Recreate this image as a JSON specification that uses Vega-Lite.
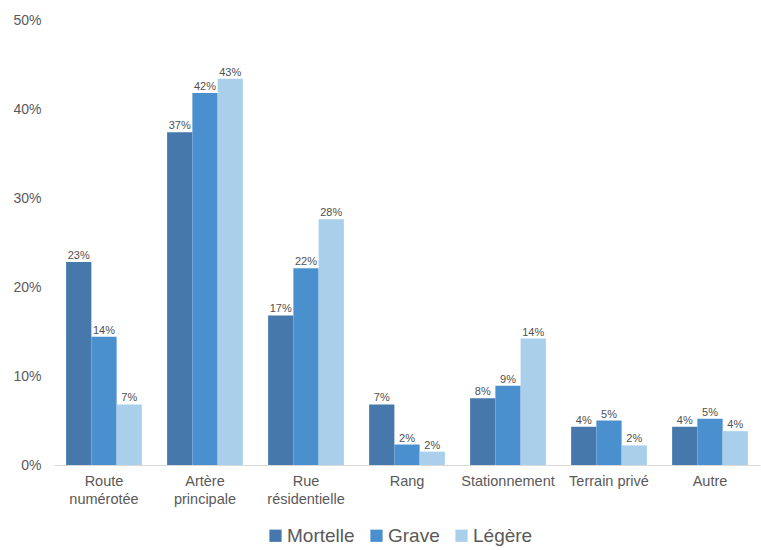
{
  "$schema": "https://vega.github.io/schema/vega-lite/v6.json",
  "width": 706,
  "height": 445,
  "autosize": "none",
  "padding": {"left": 54, "top": 20, "right": 1, "bottom": 85},
  "background": "white",
  "config": {"view": {"stroke": null}, "font": "Liberation Sans"},
  "data": {"values": [
    {"type": "Route numérotée", "severity": "Mortelle", "value": 0.228},
    {"type": "Route numérotée", "severity": "Grave", "value": 0.144},
    {"type": "Route numérotée", "severity": "Légère", "value": 0.068},
    {"type": "Artère principale", "severity": "Mortelle", "value": 0.374},
    {"type": "Artère principale", "severity": "Grave", "value": 0.418},
    {"type": "Artère principale", "severity": "Légère", "value": 0.434},
    {"type": "Rue résidentielle", "severity": "Mortelle", "value": 0.168},
    {"type": "Rue résidentielle", "severity": "Grave", "value": 0.221},
    {"type": "Rue résidentielle", "severity": "Légère", "value": 0.276},
    {"type": "Rang", "severity": "Mortelle", "value": 0.068},
    {"type": "Rang", "severity": "Grave", "value": 0.023},
    {"type": "Rang", "severity": "Légère", "value": 0.015},
    {"type": "Stationnement", "severity": "Mortelle", "value": 0.075},
    {"type": "Stationnement", "severity": "Grave", "value": 0.089},
    {"type": "Stationnement", "severity": "Légère", "value": 0.142},
    {"type": "Terrain privé", "severity": "Mortelle", "value": 0.043},
    {"type": "Terrain privé", "severity": "Grave", "value": 0.05},
    {"type": "Terrain privé", "severity": "Légère", "value": 0.022},
    {"type": "Autre", "severity": "Mortelle", "value": 0.043},
    {"type": "Autre", "severity": "Grave", "value": 0.052},
    {"type": "Autre", "severity": "Légère", "value": 0.038}
  ]},
  "encoding": {
    "x": {
      "field": "type", "type": "nominal", "sort": null,
      "scale": {"paddingInner": 0.25, "paddingOuter": 0.12},
      "axis": {
        "title": null, "labelAngle": 0, "ticks": false, "domain": true,
        "domainColor": "#d9d9d9", "labelColor": "#595959", "labelFontSize": 14.5,
        "labelPadding": 9, "labelLineHeight": 18,
        "labelExpr": "indexof(['Route numérotée','Artère principale','Rue résidentielle'], datum.label) >= 0 ? split(datum.label, ' ') : datum.label"
      }
    },
    "xOffset": {"field": "severity", "type": "nominal", "sort": ["Mortelle", "Grave", "Légère"]},
    "y": {
      "field": "value", "type": "quantitative",
      "scale": {"domain": [0, 0.5]},
      "axis": {
        "title": null, "format": ".0%", "values": [0, 0.1, 0.2, 0.3, 0.4, 0.5],
        "grid": false, "domain": false, "ticks": false, "labelPadding": 13,
        "labelColor": "#595959", "labelFontSize": 14
      }
    }
  },
  "layer": [
    {
      "mark": {"type": "bar"},
      "encoding": {
        "color": {
          "field": "severity", "type": "nominal",
          "scale": {"domain": ["Mortelle", "Grave", "Légère"], "range": ["#4678ab", "#4a90cf", "#a9cfeb"]},
          "legend": {
            "title": null, "orient": "none", "legendX": 212, "legendY": 506,
            "direction": "horizontal",
            "symbolType": "square", "symbolSize": 150, "symbolStrokeWidth": 0,
            "labelFontSize": 19, "labelColor": "#595959", "columnPadding": 12,
            "labelOffset": 2
          }
        }
      }
    },
    {
      "mark": {"type": "text", "baseline": "bottom", "dy": -1, "fontSize": 11, "color": "#505050"},
      "encoding": {
        "text": {"field": "value", "type": "quantitative", "format": ".0%"}
      }
    }
  ]
}
